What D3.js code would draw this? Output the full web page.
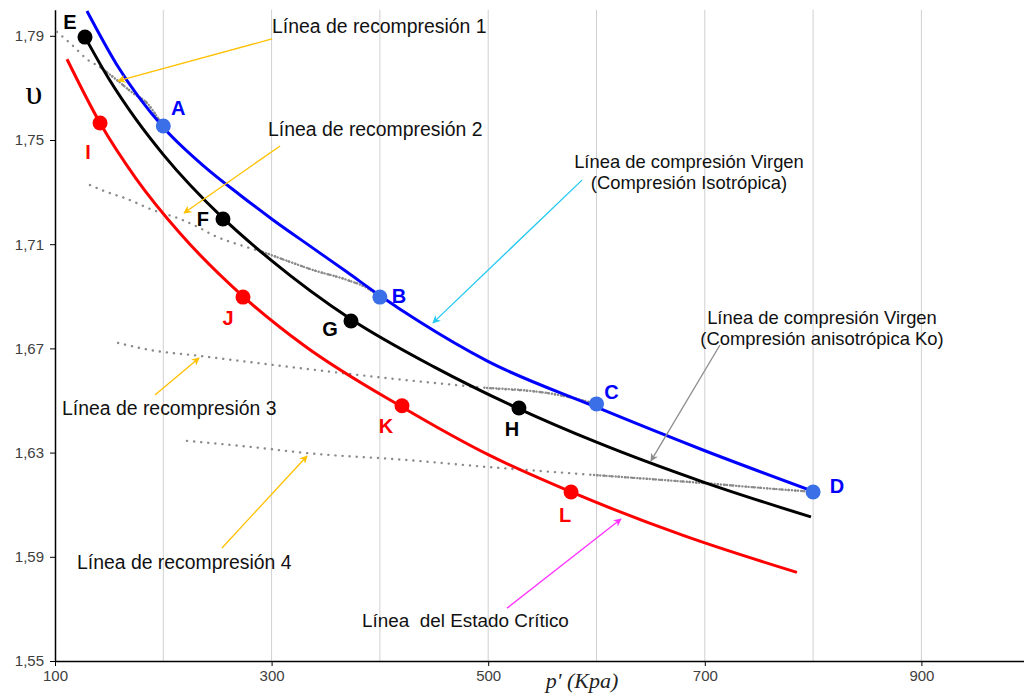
<!DOCTYPE html>
<html>
<head>
<meta charset="utf-8">
<script src="https://cdn.jsdelivr.net/npm/d3@7"></script>
<style>
  body { margin: 0; background: #fff; }
  text { font-family: "Liberation Sans", Arial, sans-serif; white-space: pre; }
</style>
</head>
<body>
<svg id="chart"></svg>
<script>
// axis ticks
var pTicks = [100, 300, 500, 700, 900];
var pGrid = [200, 300, 400, 500, 600, 700, 800, 900, 1000];
var vTicks = [1.55, 1.59, 1.63, 1.67, 1.71, 1.75, 1.79];

// virgin compression line, isotropic (blue)
var isoP = [129.5, 157.2, 199.7, 238.5, 270.8, 300.4, 338.2, 369.6, 399.2, 437, 498.9, 597.7, 698.3, 797.1];
var isoV = [1.7995, 1.7788, 1.7550, 1.7396, 1.7289, 1.7196, 1.7085, 1.6993, 1.6905, 1.6801, 1.6652, 1.6478, 1.6310, 1.6156];

// virgin compression line, anisotropic Ko (black)
var anisoP = [127.7, 150, 175, 200, 255.1, 300, 373.3, 450, 528.4, 600, 700, 798];
var anisoV = [1.7895, 1.7733, 1.7578, 1.7444, 1.7200, 1.7037, 1.6812, 1.6629, 1.6468, 1.6340, 1.6185, 1.6053];

// critical state line (red)
var cslP = [111.1, 141.6, 175, 215, 273.6, 330, 420.4, 500, 576.5, 680, 785.1];
var cslV = [1.7810, 1.7565, 1.7351, 1.7144, 1.6900, 1.6711, 1.6475, 1.6292, 1.6149, 1.5982, 1.5840];

// recompression lines (grey dots)
var rc1P = [101.8, 115.7, 130.5, 141.6, 157.2, 172, 185, 195, 200];
var rc1V = [1.7915, 1.7865, 1.7807, 1.778, 1.773, 1.768, 1.7642, 1.7585, 1.7554];
var rc2P = [132.3, 148, 164.6, 190.5, 212.7, 233.9, 245.9, 270.8, 292.1, 317, 338.2, 369.6, 388.1, 400];
var rc2V = [1.7327, 1.730, 1.7277, 1.7231, 1.7201, 1.7162, 1.7135, 1.7097, 1.707, 1.7032, 1.7001, 1.6963, 1.6932, 1.6897];
var rc3P = [158.2, 187.7, 233.9, 270.8, 332.7, 397.3, 498.9, 560, 600];
var rc3V = [1.6721, 1.6694, 1.6671, 1.6652, 1.6621, 1.659, 1.6548, 1.6525, 1.6487];
var rc4P = [221.9, 280.1, 332.7, 423.2, 498.9, 597.7, 698.3, 753.7, 800];
var rc4V = [1.6345, 1.6322, 1.6298, 1.6272, 1.6245, 1.6214, 1.6183, 1.6164, 1.6149];

// labelled points
var isoPts = ["A", "B", "C", "D"];
var isoPtsP = [200, 400, 600, 800];
var isoPtsV = [1.7554, 1.6897, 1.6487, 1.6149];
var anisoPts = ["E", "F", "G", "H"];
var anisoPtsP = [127.7, 255.1, 373.3, 528.4];
var anisoPtsV = [1.7895, 1.7197, 1.6805, 1.6471];
var cslPts = ["I", "J", "K", "L"];
var cslPtsP = [141.6, 273.6, 420.4, 576.5];
var cslPtsV = [1.7565, 1.6897, 1.6480, 1.6149];

// annotation texts
var noteText = [
  ["Línea de recompresión 1"],
  ["Línea de recompresión 2"],
  ["Línea de compresión Virgen", "(Compresión Isotrópica)"],
  ["Línea de compresión Virgen", "(Compresión anisotrópica Ko)"],
  ["Línea de recompresión 3"],
  ["Línea de recompresión 4"],
  ["Línea  del Estado Crítico"]
];
var noteP = [300.4, 296.7, 685.4, 808.2, 106.5, 120.3, 383.5];
var noteV = [1.7911, 1.7515, 1.7393, 1.6794, 1.6444, 1.5853, 1.5631];
var noteAnchor = ["start", "start", "middle", "middle", "start", "start", "start"];
var noteSize = [19.4, 19.4, 18.4, 18.4, 19.4, 19.4, 18.9];

// annotation arrows: tail -> tip
var arrowP0 = [300.4, 307.8, 586.6, 714, 192.3, 254.2, 517.4];
var arrowV0 = [1.7888, 1.7477, 1.7346, 1.6713, 1.6521, 1.5934, 1.5703];
var arrowP1 = [158.2, 219.1, 449, 650.3, 233, 332.7, 622.6];
var arrowV1 = [1.7727, 1.722, 1.6798, 1.6268, 1.6663, 1.6287, 1.6045];
var arrowColor = ["#ffc000", "#ffc000", "#22c8f0", "#8c8c8c", "#ffc000", "#ffc000", "#ff33ff"];

// where the recompression dots get denser
var rcDenseFrom = [140, 290, 420, 560];

var width = 1024, height = 696;

var x = d3.scaleLinear().domain([100, 1000]).range([55, 1029.7]);
var y = d3.scaleLinear().domain([1.55, 1.80]).range([661, 9.75]);

var svg = d3.select("#chart")
    .attr("width", width)
    .attr("height", height);

// arrow heads
var defs = svg.append("defs");
arrowColor.forEach(function(c, i) {
  defs.append("marker")
      .attr("id", "ah" + i)
      .attr("viewBox", "0 0 10 10")
      .attr("refX", 9)
      .attr("refY", 5)
      .attr("markerWidth", 8)
      .attr("markerHeight", 8)
      .attr("markerUnits", "userSpaceOnUse")
      .attr("orient", "auto")
    .append("path")
      .attr("d", "M0,0 L10,5 L0,10 L3,5 z")
      .style("fill", c);
});

// vertical grid
svg.append("g").selectAll("line")
    .data(pGrid)
  .enter().append("line")
    .attr("x1", function(d) { return x(d); })
    .attr("x2", function(d) { return x(d); })
    .attr("y1", y(1.55))
    .attr("y2", y(1.80))
    .style("stroke", "#d0d0d0")
    .style("stroke-width", 1);

// axes
var fmt = function(d) { return d3.format(".2f")(d).replace(".", ","); };

var yAxis = svg.append("g")
    .attr("transform", "translate(" + x(100) + ",0)")
    .call(d3.axisLeft(y).tickValues(vTicks).tickFormat(fmt).tickSize(5).tickSizeOuter(0).tickPadding(6));

var xAxis = svg.append("g")
    .attr("transform", "translate(0," + y(1.55) + ")")
    .call(d3.axisBottom(x).tickValues(pTicks).tickFormat(d3.format("d")).tickSize(5).tickSizeOuter(0).tickPadding(4));

[yAxis, xAxis].forEach(function(a) {
  a.select(".domain").style("stroke", "#000").style("stroke-width", 1.5);
  a.selectAll(".tick line").style("stroke", "#000");
  a.selectAll(".tick text")
      .style("font-family", "'Liberation Sans', Arial, sans-serif")
      .style("font-size", "15px")
      .style("fill", "#404040");
});

// axis titles
svg.append("text")
    .attr("x", 34)
    .attr("y", 104)
    .attr("text-anchor", "middle")
    .style("font-family", "'Liberation Serif', 'Times New Roman', serif")
    .style("font-size", "34px")
    .text("υ");

svg.append("text")
    .attr("x", 582)
    .attr("y", 688)
    .attr("text-anchor", "middle")
    .style("font-family", "'Liberation Serif', 'Times New Roman', serif")
    .style("font-style", "italic")
    .style("font-size", "22px")
    .style("fill", "#222")
    .text("p' (Kpa)");

var line = d3.line()
    .x(function(d) { return x(d[0]); })
    .y(function(d) { return y(d[1]); })
    .curve(d3.curveMonotoneX);

// recompression lines: sparse dots, then denser near the virgin line
[[rc1P, rc1V], [rc2P, rc2V], [rc3P, rc3V], [rc4P, rc4V]].forEach(function(s, i) {
  var pts = d3.zip(s[0], s[1]);
  svg.append("path")
      .datum(pts)
      .attr("d", line)
      .style("fill", "none")
      .style("stroke", "#8a8a8a")
      .style("stroke-width", 2.4)
      .style("stroke-linecap", "round")
      .style("stroke-dasharray", "0.1 7");
  svg.append("path")
      .datum(pts.filter(function(d) { return d[0] >= rcDenseFrom[i]; }))
      .attr("d", line)
      .style("fill", "none")
      .style("stroke", "#8a8a8a")
      .style("stroke-width", 2.4)
      .style("stroke-linecap", "round")
      .style("stroke-dasharray", "0.1 3");
});

// main curves
[[isoP, isoV, "#0000ff"], [anisoP, anisoV, "#000"], [cslP, cslV, "#ff0000"]].forEach(function(s) {
  svg.append("path")
      .datum(d3.zip(s[0], s[1]))
      .attr("d", line)
      .style("fill", "none")
      .style("stroke", s[2])
      .style("stroke-width", 3);
});

// annotation arrows
arrowP0.forEach(function(p, i) {
  svg.append("line")
      .attr("x1", x(p))
      .attr("y1", y(arrowV0[i]))
      .attr("x2", x(arrowP1[i]))
      .attr("y2", y(arrowV1[i]))
      .style("stroke", arrowColor[i])
      .style("stroke-width", 1.3)
      .attr("marker-end", "url(#ah" + i + ")");
});

// annotation texts
noteText.forEach(function(lines, i) {
  var t = svg.append("text")
      .attr("x", x(noteP[i]))
      .attr("y", y(noteV[i]))
      .attr("text-anchor", noteAnchor[i])
      .style("font-size", noteSize[i] + "px")
      .style("fill", "#111");
  lines.forEach(function(l, j) {
    t.append("tspan")
        .attr("x", x(noteP[i]))
        .attr("dy", j === 0 ? 0 : 21)
        .text(l);
  });
});

// labelled points
var labelOffset = {
  A: [15, -18], B: [19, -1], C: [15, -12], D: [24, -6],
  E: [-15, -15], F: [-20, 0], G: [-21, 8], H: [-7, 21],
  I: [-12, 29], J: [-15, 21], K: [-16, 20], L: [-6, 23]
};

[[isoPts, isoPtsP, isoPtsV, "#3a6fe8", "#0000ff"],
 [anisoPts, anisoPtsP, anisoPtsV, "#000", "#000"],
 [cslPts, cslPtsP, cslPtsV, "#ff0000", "#ff0000"]].forEach(function(s) {
  var pts = d3.zip(s[0], s[1], s[2]);
  svg.append("g").selectAll("circle")
      .data(pts)
    .enter().append("circle")
      .attr("cx", function(d) { return x(d[1]); })
      .attr("cy", function(d) { return y(d[2]); })
      .attr("r", 7.5)
      .style("fill", s[3]);
  svg.append("g").selectAll("text")
      .data(pts)
    .enter().append("text")
      .attr("x", function(d) { return x(d[1]) + labelOffset[d[0]][0]; })
      .attr("y", function(d) { return y(d[2]) + labelOffset[d[0]][1]; })
      .attr("text-anchor", "middle")
      .attr("dominant-baseline", "central")
      .style("font-size", "20px")
      .style("font-weight", "bold")
      .style("fill", s[4])
      .text(function(d) { return d[0]; });
});
</script>
</body>
</html>
